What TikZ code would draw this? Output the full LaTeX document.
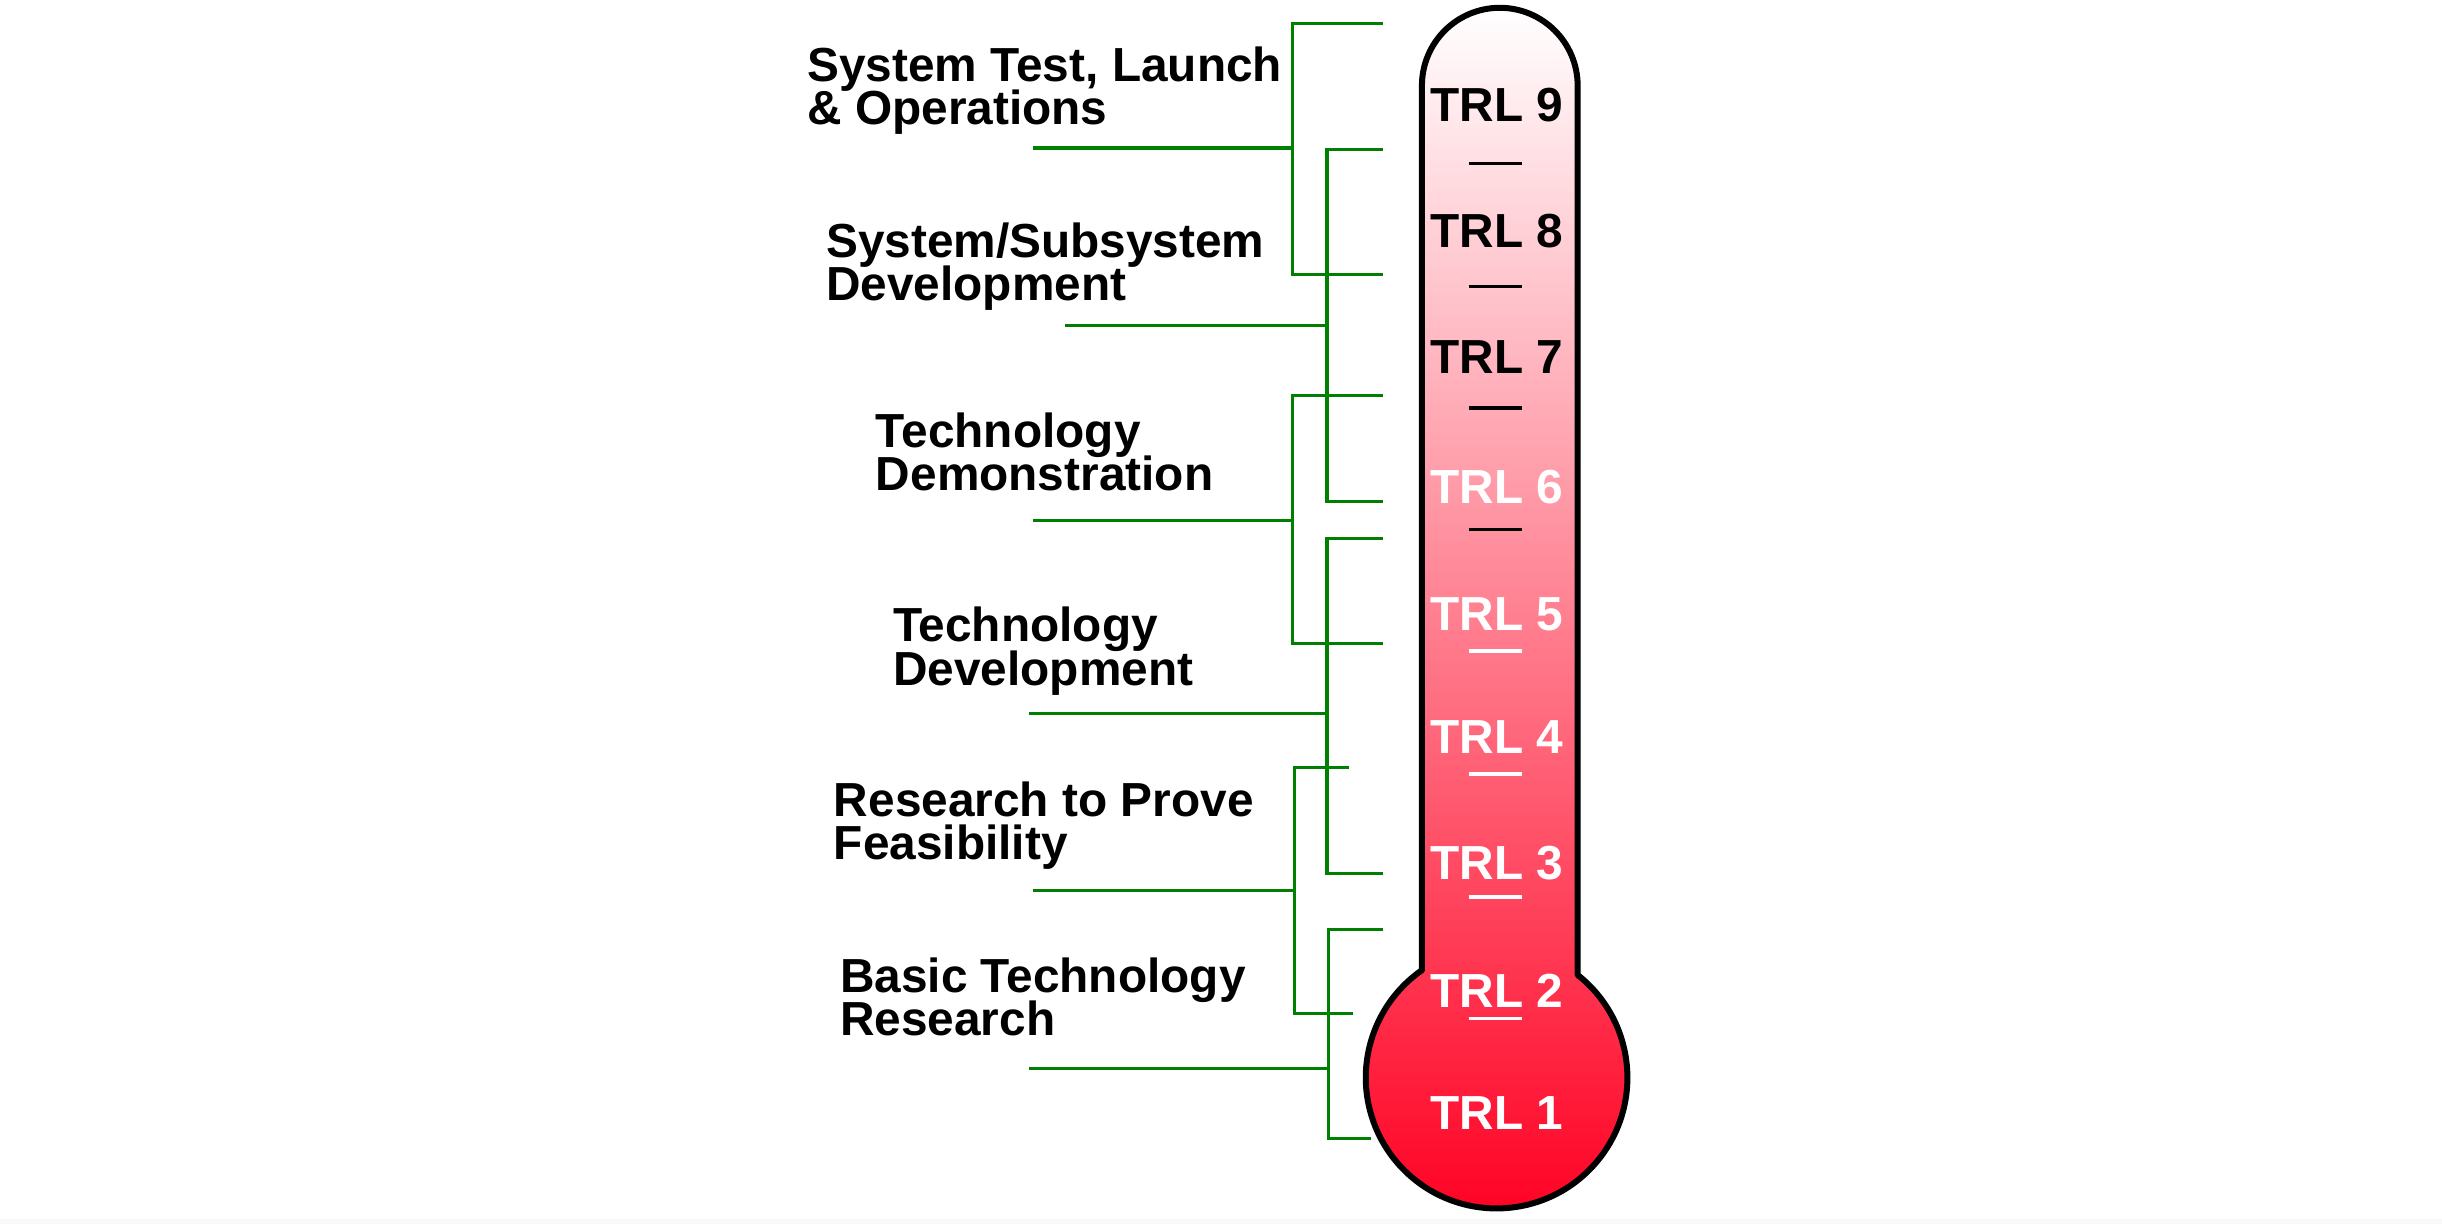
\documentclass[tikz,border=0pt]{standalone}
\usepackage{fontspec}
\setmainfont{Liberation Sans}
\usepackage{tikz}

\definecolor{trlred}{RGB}{255,0,34}
\definecolor{brkgreen}{RGB}{0,128,0}
\definecolor{edgegray}{RGB}{248,249,250}
\newcommand\phasefont{\fontsize{13.6}{12.4}\selectfont\bfseries\lineskiplimit-20pt\relax}

\begin{document}
\begin{tikzpicture}[x=0.15574mm, y=-0.15574mm,
    lbl/.style={anchor=base west, align=left, inner sep=0pt, font=\phasefont},
    trl/.style={anchor=base, inner sep=0pt,
      font=\fontsize{13.6}{16}\selectfont\bfseries},
    brk/.style={brkgreen, line width=0.32mm},
    tick/.style={line width=0.38mm}]
    \useasboundingbox (0,0) rectangle (1568,786);
    \fill[edgegray] (0,783) rectangle (1568,786);

    % thermometer
    \shade[top color=white, bottom color=trlred]
      (913,623) -- (913,55) arc[start angle=180, end angle=360, radius=50]
      -- (1013,626) arc[start angle=-51.7, end angle=235.2, radius=84] -- cycle;
    \draw[line width=0.6mm, line join=round]
      (913,623) -- (913,55) arc[start angle=180, end angle=360, radius=50]
      -- (1013,626) arc[start angle=-51.7, end angle=235.2, radius=84] -- cycle;

    % scale marks
    \foreach \y/\c in {105/black,184/black,262/black,340/black,
                       418/white,497/white,576/white,654/white}
      \draw[tick,\c] (943,\y) -- (977,\y);

    % levels
    \foreach \n/\y/\c in {9/78/black,8/159/black,7/240/black,6/323/white,
                          5/405/white,4/484/white,3/565/white,2/647/white,1/725/white}
      \node[trl,text=\c] (trl\n) at (961,\y) {TRL \n};

    % phases (base = last line)
    \node[lbl] (ops)   at (518,80)  {System Test, Launch\\\& Operations};
    \node[lbl] (sysdev) at (530,193) {System/Subsystem\\Development};
    \node[lbl] (demo)  at (562,315) {Technology\\Demonstration};
    \node[lbl] (techdev) at (573,440) {Technology\\Development};
    \node[lbl] (feas)  at (535,552) {Research to Prove\\Feasibility};
    \node[lbl] (basic) at (539,665) {Basic Technology\\Research};

    % brackets
    \foreach \b/\xv/\yt/\yb/\ym/\xl/\xt/\xb in {
        ops/830/15/176/95/663/888/888,
        sysdev/852/96/322/209/684/888/888,
        demo/830/254/413/334/663/888/888,
        techdev/852/346/561/458/661/888/888,
        feas/831/493/651/572/663/866/869,
        basic/853/597/731/686/661/888/880} {
      \coordinate (\b-t) at (\xt,\yt);
      \coordinate (\b-b) at (\xb,\yb);
      \coordinate (\b-m) at (\xl,\ym);
      \draw[brk] (\b-t) -- (\xv,\yt) -- (\xv,\yb) -- (\b-b);
      \draw[brk] (\b-m) -- (\xv,\ym);
    }
    \draw[brk, line width=0.45mm] (ops-m) -- (830,95);
\end{tikzpicture}
\end{document}
